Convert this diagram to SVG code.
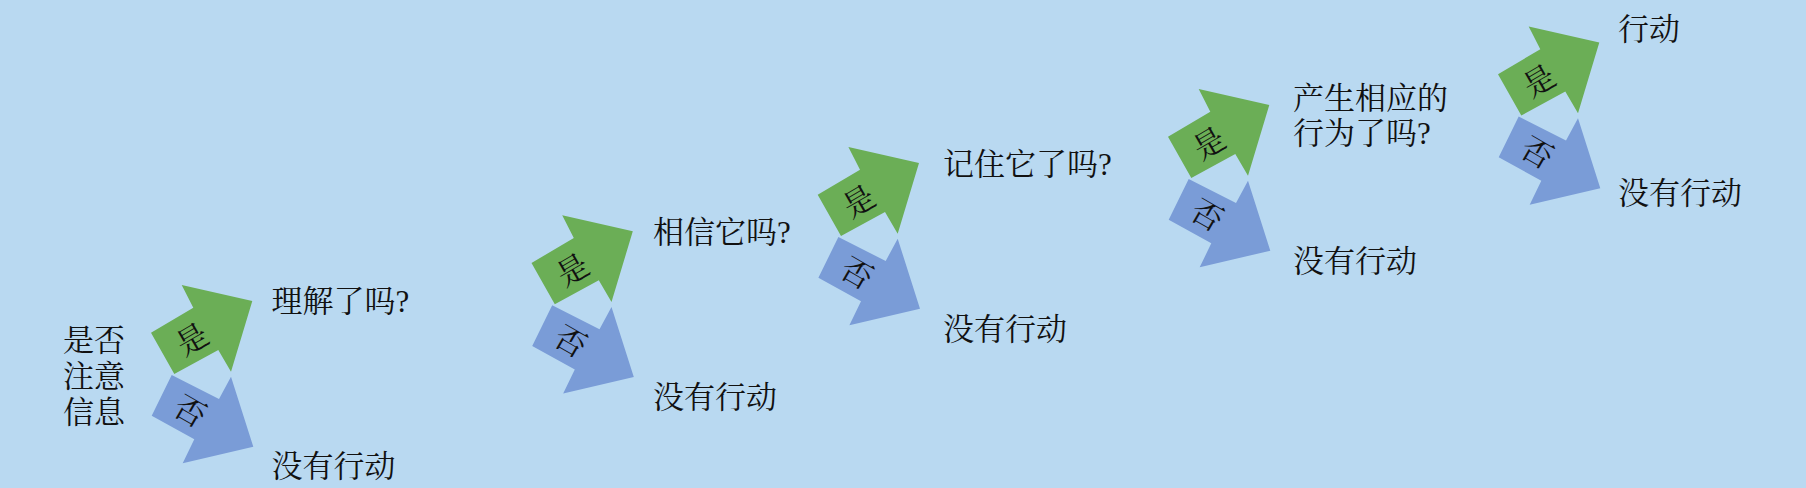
<svg xmlns="http://www.w3.org/2000/svg" xmlns:xlink="http://www.w3.org/1999/xlink" width="1806" height="488" viewBox="0 0 1806 488">
<style>
.bg{fill:#B9D9F1}
.yes{fill:#6BAE56}
.no{fill:#7A9CD7}
.lbl{font-family:"Liberation Serif","Noto Serif CJK SC","Noto Sans CJK SC",serif;font-size:31px;fill:#111}
.arr{font-family:"Liberation Serif","Noto Serif CJK SC","Noto Sans CJK SC",serif;font-size:31px;fill:#111;text-anchor:middle;dominant-baseline:central}
</style>
<defs>
<polygon id="ga" class="yes" points="151,332.7 193.3,307.7 181.7,285 252.3,301 231,371.7 218.3,350 174.3,374"/>
<polygon id="ba" class="no" points="171.7,375 219,399 231,376.7 253.3,446.7 182.7,463.3 194.3,439.3 151.7,415.7"/>
<g id="pair">
<use xlink:href="#ga"/>
<use xlink:href="#ba"/>
<text class="arr" transform="translate(192.5,340) rotate(-30)">是</text>
<text class="arr" transform="translate(190,411.7) rotate(30)">否</text>
</g>
</defs>
<rect class="bg" x="0" y="0" width="1806" height="488"/>
<g id="start">
<text class="lbl" x="63" y="350.5">是否</text>
<text class="lbl" x="63" y="386.5">注意</text>
<text class="lbl" x="63" y="422.5">信息</text>
</g>
<g id="connectors">
<use xlink:href="#pair"/>
<use xlink:href="#pair" transform="translate(380.5,-69.7)"/>
<use xlink:href="#pair" transform="translate(666.7,-138)"/>
<use xlink:href="#pair" transform="translate(1017,-196)"/>
<use xlink:href="#pair" transform="translate(1347,-258.5)"/>
</g>
<g id="understand">
<text class="lbl" x="271.5" y="311.5">理解了吗?</text>
</g>
<g id="noaction1">
<text class="lbl" x="271.5" y="476.5">没有行动</text>
</g>
<g id="believe">
<text class="lbl" x="653" y="242.5">相信它吗?</text>
</g>
<g id="noaction2">
<text class="lbl" x="653" y="407.5">没有行动</text>
</g>
<g id="remember">
<text class="lbl" x="943" y="174.5">记住它了吗?</text>
</g>
<g id="noaction3">
<text class="lbl" x="943" y="339.5">没有行动</text>
</g>
<g id="behave">
<text class="lbl" x="1293" y="108.5">产生相应的</text>
<text class="lbl" x="1293" y="143.5">行为了吗?</text>
</g>
<g id="noaction4">
<text class="lbl" x="1293" y="271.5">没有行动</text>
</g>
<g id="action">
<text class="lbl" x="1618" y="39.5">行动</text>
</g>
<g id="noaction5">
<text class="lbl" x="1618" y="203.5">没有行动</text>
</g>
</svg>
